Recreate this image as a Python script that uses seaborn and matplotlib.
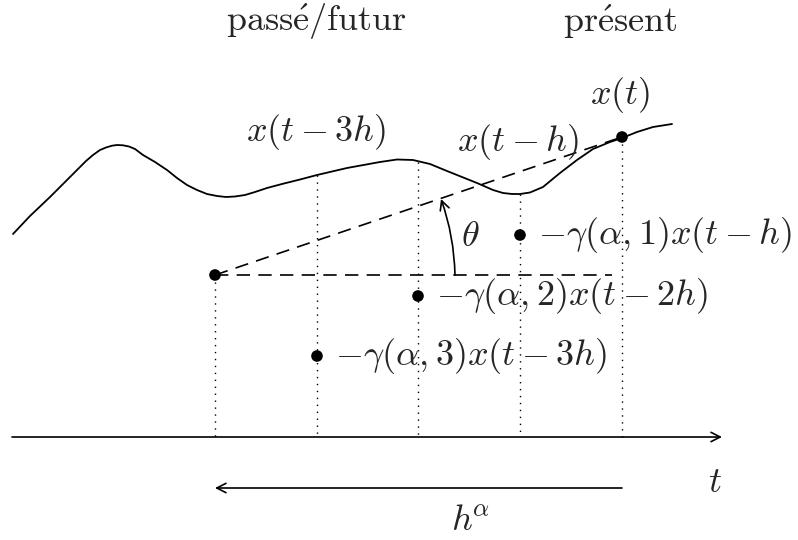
import matplotlib
matplotlib.use("Agg")
import matplotlib.pyplot as plt
import seaborn as sns

sns.set_theme(style="white")
plt.rcParams['mathtext.fontset'] = 'cm'
plt.rcParams['font.family'] = ['DejaVu Serif']

# curve x(t) (pixel-like units, y downwards)
curve_x = [13, 30, 50, 70, 86, 93, 100, 106, 112, 117, 123, 129, 135, 143, 155, 167, 177,
           187, 197, 207, 217, 226, 235, 245, 255, 267, 282, 300, 317, 347, 380, 397,
           413, 430, 447, 462, 477, 493, 503, 512, 520, 530, 543, 560, 577, 593, 610,
           622, 637, 653, 672]
curve_y = [234, 216, 197, 177, 161, 155, 150, 147.5, 145.7, 145, 145.3, 146.5, 149, 155,
           162, 170, 178, 185, 190, 194, 196, 197, 196.5, 195, 192, 188, 184, 179.5, 175,
           168, 162, 159.5, 160, 164, 171, 177, 183, 190, 193, 194, 194, 192.5, 187, 173,
           160, 149, 142, 138, 132, 127, 124]

# sample times and the weighted points
grid_x = [215, 317, 418, 520, 622]
grid_top = [275, 175, 162, 194, 137]
axis_y = 437
dots_x = [215, 317, 418, 520, 622]
dots_y = [275, 356, 296, 235, 137]
dot_labels = ["", r"$-\gamma(\alpha,3)x(t-3h)$", r"$-\gamma(\alpha,2)x(t-2h)$",
              r"$-\gamma(\alpha,1)x(t-h)$", ""]

FS = 26
arrow = '->,head_length=0.55,head_width=0.28'

fig = plt.figure(figsize=(7.98, 5.4), dpi=100)
ax = fig.add_axes([0, 0, 1, 1])
ax.set_xlim(0, 798)
ax.set_ylim(540, 0)
ax.axis('off')

# the signal
sns.lineplot(x=curve_x, y=curve_y, sort=False, color='black', lw=1.3, ax=ax)

# dotted verticals
for gx, gt in zip(grid_x, grid_top):
    ax.plot([gx, gx], [gt, axis_y], color='black', lw=1, ls=(0, (1, 4)))

# dashed lines from the origin point
ax.plot([dots_x[0], 612], [dots_y[0], dots_y[0]], color='black', lw=1.2, ls=(0, (8, 5)))
ax.plot([dots_x[0], dots_x[-1]], [dots_y[0], dots_y[-1]], color='black', lw=1.2, ls=(0, (8, 5)))

# dots
sns.scatterplot(x=dots_x, y=dots_y, color='black', s=70, edgecolor='none', ax=ax, zorder=5)
for x, y, lab in zip(dots_x, dots_y, dot_labels):
    if lab:
        ax.text(x + 18, y, lab, fontsize=FS, va='center', ha='left')

# angle arc
ax.annotate("", xy=(441, 199), xytext=(455, 275),
            arrowprops=dict(arrowstyle=arrow, color='black',
                            lw=1.2, connectionstyle='arc3,rad=0.08', shrinkA=0, shrinkB=0))
ax.text(470, 236, r"$\theta$", fontsize=FS, va='center', ha='center')

# time axis
ax.annotate("", xy=(722, axis_y), xytext=(12, axis_y),
            arrowprops=dict(arrowstyle=arrow, color='black',
                            lw=1.2, shrinkA=0, shrinkB=0))
ax.text(715, 482, r"$t$", fontsize=FS, va='center', ha='center')

# h^alpha arrow
ax.annotate("", xy=(215, 488), xytext=(622, 488),
            arrowprops=dict(arrowstyle=arrow, color='black',
                            lw=1.2, shrinkA=0, shrinkB=0))
ax.text(470, 520, r"$h^{\!\alpha}$", fontsize=FS, va='center', ha='center')

# labels
ax.text(316, 132, r"$x(t-3h)$", fontsize=FS, va='center', ha='center')
ax.text(518, 142, r"$x(t-h)$", fontsize=FS, va='center', ha='center')
ax.text(620, 95, r"$x(t)$", fontsize=FS, va='center', ha='center')
ax.text(316, 22, r"$\mathrm{pass\acute{e}/futur}$", fontsize=FS, va='center', ha='center')
ax.text(620, 22, r"$\mathrm{pr\acute{e}sent}$", fontsize=FS, va='center', ha='center')

fig.savefig("out.png", dpi=100)
